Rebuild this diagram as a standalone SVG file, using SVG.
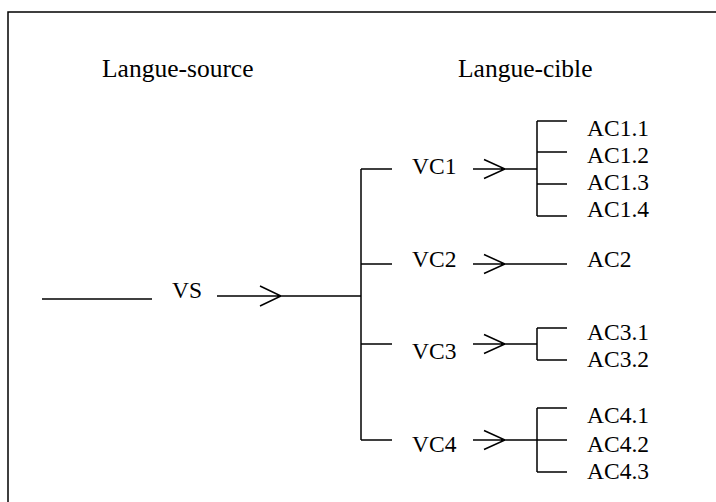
<svg xmlns="http://www.w3.org/2000/svg" width="716" height="502" viewBox="0 0 716 502">
<style>
text{font-family:"Liberation Serif","Times New Roman",serif;fill:#000}
.h{font-size:25.5px}
.n{font-size:23.5px}
.l{stroke:#000;stroke-width:1.5;fill:none}
</style>
<rect width="716" height="502" fill="#fff"/>
<rect x="8" y="12" width="720" height="500" fill="none" stroke="#000" stroke-width="1.5"/>
<g id="headings">
<text class="h" x="102" y="77">Langue-source</text>
<text class="h" x="458" y="77">Langue-cible</text>
</g>
<g id="connectors" class="l">
<path d="M42 299H152"/>
<path d="M217 296H361M260 286L281 296L260 306"/>
<path d="M361 169V440"/>
<path d="M361 169H392M361 264H392M361 344H392M361 440H392"/>
<path d="M473 169H537M484 159.5L505 169L484 178.5"/>
<path d="M537 121V216M537 121H567M537 152H567M537 184H567M537 216H567"/>
<path d="M473 264H567M484 254.5L505 264L484 273.5"/>
<path d="M473 344H537M484 334.5L505 344L484 353.5"/>
<path d="M537 328V360M537 328H567M537 360H567"/>
<path d="M473 440H567M484 430.5L505 440L484 449.5"/>
<path d="M537 408V472M537 408H567M537 472H567"/>
</g>
<g id="VS"><text class="n" x="172" y="298">VS</text></g>
<g id="VC1"><text class="n" x="412" y="174">VC1</text></g>
<g id="VC2"><text class="n" x="412" y="267">VC2</text></g>
<g id="VC3"><text class="n" x="412" y="359">VC3</text></g>
<g id="VC4"><text class="n" x="412" y="452">VC4</text></g>
<g id="AC1">
<text class="n" x="587" y="136">AC1.1</text>
<text class="n" x="587" y="163">AC1.2</text>
<text class="n" x="587" y="190">AC1.3</text>
<text class="n" x="587" y="217">AC1.4</text>
</g>
<g id="AC2"><text class="n" x="587" y="267">AC2</text></g>
<g id="AC3">
<text class="n" x="587" y="340">AC3.1</text>
<text class="n" x="587" y="367">AC3.2</text>
</g>
<g id="AC4">
<text class="n" x="587" y="423">AC4.1</text>
<text class="n" x="587" y="452">AC4.2</text>
<text class="n" x="587" y="479">AC4.3</text>
</g>
</svg>
